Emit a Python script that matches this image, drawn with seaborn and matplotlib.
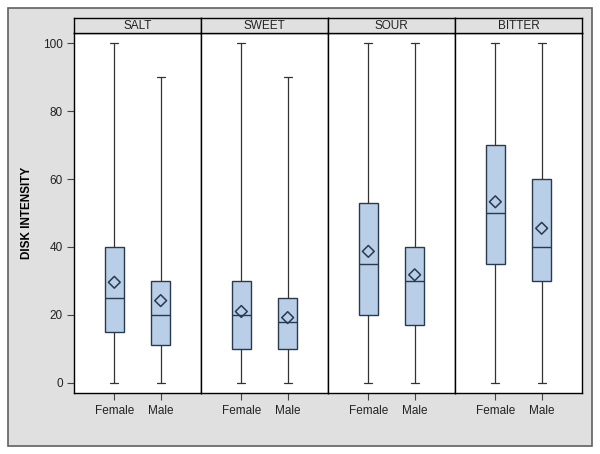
import numpy as np
import pandas as pd
import seaborn as sns
import matplotlib.pyplot as plt
from matplotlib.patches import Rectangle

tastes = ['SALT', 'SWEET', 'SOUR', 'BITTER']
genders = ['Female', 'Male']

# five-number summaries, order: SALT F, SALT M, SWEET F, SWEET M, SOUR F, SOUR M, BITTER F, BITTER M
lo = [0, 0, 0, 0, 0, 0, 0, 0]
q1 = [15, 11, 10, 10, 20, 17, 35, 30]
med = [25, 20, 20, 18, 35, 30, 50, 40]
q3 = [40, 30, 30, 25, 53, 40, 70, 60]
hi = [100, 90, 100, 90, 100, 100, 100, 100]
means = [29.6, 24.2, 21.0, 19.2, 38.7, 31.8, 53.3, 45.5]

rows = []
mrows = []
i = 0
for t in tastes:
    for g in genders:
        for v in (lo[i], q1[i], med[i], q3[i], hi[i]):
            rows.append((t, g, v))
        mrows.append((t, g, means[i]))
        i += 1
df = pd.DataFrame(rows, columns=['taste', 'gender', 'value'])
dm = pd.DataFrame(mrows, columns=['taste', 'gender', 'mean'])

sns.set_style('white')
plt.rcParams['font.family'] = ['Liberation Sans', 'DejaVu Sans']

fig = plt.figure(figsize=(6, 4.54), dpi=100)
fig.patches.append(Rectangle((8 / 600, 8 / 454), 584 / 600, 438 / 454,
                             transform=fig.transFigure, fc='#e0e0e0',
                             ec='#606060', lw=1.2, zorder=-10))
axes = fig.subplots(1, 4, sharey=True, gridspec_kw=dict(wspace=0))
fig.subplots_adjust(left=0.1233, right=0.97, bottom=0.1344, top=0.9273)

box_fill = '#b9cfe8'
edge = '#2a3a4e'

for ax, t in zip(axes, tastes):
    sub = df[df.taste == t]
    sns.boxplot(data=sub, x='gender', y='value', order=genders, ax=ax,
                whis=(0, 100), width=0.41, color=box_fill, saturation=1,
                linecolor=edge, linewidth=1.0, capwidths=0.17,
                whiskerprops=dict(color='#333333', linewidth=0.9),
                capprops=dict(color='#333333', linewidth=0.9))
    sns.stripplot(data=dm[dm.taste == t], x='gender', y='mean', order=genders,
                  ax=ax, jitter=False, marker='D', s=6, facecolors='none',
                  edgecolor=edge, linewidth=1.1, zorder=5)
    ax.set_facecolor('white')
    ax.set_xlim(-0.87, 1.87)
    ax.set_ylim(-3, 103)
    ax.set_xlabel('')
    ax.set_ylabel('')
    for s in ax.spines.values():
        s.set_color('black')
        s.set_linewidth(1.0)
    ax.tick_params(axis='x', bottom=True, length=5, color='#444444',
                   labelsize=8.5, labelcolor='#222222', pad=4)
    ax.tick_params(axis='y', left=False)
    # header strip
    hdr = ax.inset_axes([0, 1, 1, 15 / 360])
    hdr.set_facecolor('#e0e0e0')
    hdr.set_xticks([])
    hdr.set_yticks([])
    for s in hdr.spines.values():
        s.set_color('black')
        s.set_linewidth(1.0)
    hdr.text(0.5, 0.5, t, ha='center', va='center', fontsize=8.5,
             color='#222222', transform=hdr.transAxes)

axes[0].set_yticks([0, 20, 40, 60, 80, 100])
axes[0].tick_params(axis='y', left=True, length=5, color='#444444',
                    labelsize=8.5, labelcolor='#222222', pad=3)
fig.text(27 / 600, 0.531, 'DISK INTENSITY', rotation=90, ha='center',
         va='center', fontsize=8.5, fontweight='bold', color='black')

fig.savefig('out.png', dpi=100, facecolor='white')
